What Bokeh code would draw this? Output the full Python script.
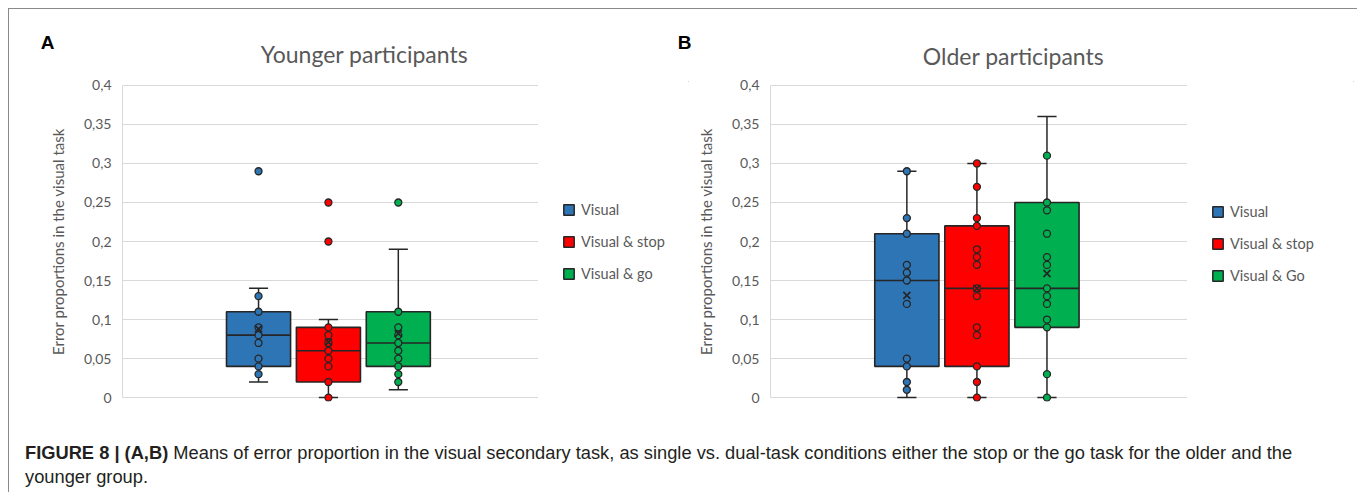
from bokeh.plotting import figure
from bokeh.models import (Range1d, FixedTicker, CustomJSTickFormatter, Legend,
                          LegendItem, Div)
from bokeh.layouts import column, row
from bokeh.embed import file_html
from bokeh.resources import INLINE
from bokeh.core.properties import value

# ---------------- data ----------------
groups_young = ["Visual", "Visual & stop", "Visual & go"]
groups_old = ["Visual", "Visual & stop", "Visual & Go"]
colors = ["#2E75B6", "#FF0000", "#00B050"]
y_ticks = [0, 0.05, 0.1, 0.15, 0.2, 0.25, 0.3, 0.35, 0.4]
panel_titles = ["Younger participants", "Older participants"]
panel_letters = ["A", "B"]

young_q1 = [0.04, 0.02, 0.04]
young_median = [0.08, 0.06, 0.07]
young_q3 = [0.11, 0.09, 0.11]
young_low = [0.02, 0.00, 0.01]
young_high = [0.14, 0.10, 0.19]
young_mean = [0.088, 0.071, 0.082]
young_points_visual = [0.13, 0.11, 0.09, 0.08, 0.07, 0.05, 0.04, 0.03]
young_points_stop = [0.09, 0.08, 0.07, 0.06, 0.05, 0.04, 0.02, 0.0]
young_points_go = [0.11, 0.09, 0.08, 0.07, 0.06, 0.05, 0.04, 0.03, 0.02]
young_outliers_visual = [0.29]
young_outliers_stop = [0.25, 0.20]
young_outliers_go = [0.25]

old_q1 = [0.04, 0.04, 0.09]
old_median = [0.15, 0.14, 0.14]
old_q3 = [0.21, 0.22, 0.25]
old_low = [0.0, 0.0, 0.0]
old_high = [0.29, 0.30, 0.36]
old_mean = [0.131, 0.14, 0.159]
old_points_visual = [0.29, 0.23, 0.21, 0.17, 0.16, 0.15, 0.12, 0.05, 0.04, 0.02, 0.01]
old_points_stop = [0.30, 0.27, 0.23, 0.22, 0.19, 0.18, 0.17, 0.14, 0.13, 0.09, 0.08,
                   0.04, 0.02, 0.0]
old_points_go = [0.31, 0.25, 0.24, 0.21, 0.18, 0.17, 0.14, 0.13, 0.12, 0.10, 0.09,
                 0.03, 0.0]
old_outliers_visual = []
old_outliers_stop = []
old_outliers_go = []

DARK = "#262626"
GREY_TXT = "#595959"
GRID = "#d9d9d9"
TICK_FS = "14px"
AXT_FS = "15px"
LEG_FS = "14.5px"
PANEL_H = 350


def make_panel(frame_w, b_left, b_top, b_bottom,
               q1, med, q3, lo, hi, mean, points, outliers):
    p = figure(frame_width=frame_w, frame_height=320, output_backend="svg",
               toolbar_location=None, x_range=Range1d(0, 1),
               y_range=Range1d(-0.005, 0.405),
               min_border_left=b_left, min_border_top=b_top,
               min_border_right=0, min_border_bottom=b_bottom)
    p.outline_line_color = None
    p.background_fill_color = "white"
    p.border_fill_color = "white"
    p.xaxis.visible = False
    p.xgrid.visible = False
    p.ygrid.grid_line_color = GRID
    p.ygrid.grid_line_width = 1
    p.yaxis.ticker = FixedTicker(ticks=y_ticks)
    p.yaxis.bounds = (0, 0.4)
    p.yaxis.formatter = CustomJSTickFormatter(code="""
        var s = tick.toFixed(2).replace(/0+$/, '').replace(/\\.$/, '');
        return s.replace('.', ',');
    """)
    p.yaxis.axis_line_color = GRID
    p.yaxis.major_tick_line_color = None
    p.yaxis.minor_tick_line_color = None
    p.yaxis.major_tick_out = 0
    p.yaxis.major_label_standoff = 11
    p.yaxis.major_label_text_font = "Lato"
    p.yaxis.major_label_text_font_size = TICK_FS
    p.yaxis.major_label_text_color = GREY_TXT
    p.yaxis.axis_label = "Error proportions in the visual task"
    p.yaxis.axis_label_text_font = "Lato"
    p.yaxis.axis_label_text_font_size = AXT_FS
    p.yaxis.axis_label_text_font_style = "normal"
    p.yaxis.axis_label_text_color = GREY_TXT
    p.yaxis.axis_label_standoff = 14

    center = 0.495
    offsets = [-0.168, 0.0, 0.168]
    bw = 0.154
    cap = 0.046
    for i in range(3):
        xc = center + offsets[i]
        p.vbar(x=[xc], width=bw, bottom=[q1[i]], top=[q3[i]],
               fill_color=colors[i], line_color=DARK, line_width=1.6)
        p.segment(x0=[xc - bw / 2], x1=[xc + bw / 2], y0=[med[i]], y1=[med[i]],
                  line_color=DARK, line_width=1.6)
        p.segment(x0=[xc, xc], x1=[xc, xc], y0=[q3[i], q1[i]], y1=[hi[i], lo[i]],
                  line_color=DARK, line_width=1.5)
        p.segment(x0=[xc - cap / 2, xc - cap / 2], x1=[xc + cap / 2, xc + cap / 2],
                  y0=[hi[i], lo[i]], y1=[hi[i], lo[i]],
                  line_color=DARK, line_width=1.5)
        pts = points[i] + outliers[i]
        p.scatter(x=[xc] * len(pts), y=pts, size=7, fill_color=colors[i],
                  line_color=DARK, line_width=1.3)
        p.scatter(x=[xc], y=[mean[i]], marker="x", size=10, line_color=DARK,
                  line_width=1.7)
    return p


def make_legend(width, groups, loc):
    lp = figure(width=width, height=PANEL_H, output_backend="svg",
                toolbar_location=None, x_range=Range1d(0, 1),
                y_range=Range1d(0, 1), x_axis_location=None,
                y_axis_location=None, min_border=0)
    lp.grid.visible = False
    lp.outline_line_color = None
    items = []
    for i in range(3):
        # legend proxy: one bar placed outside the visible range (never seen)
        r = lp.vbar(x=[5], width=0.1, bottom=[5], top=[6], fill_color=colors[i],
                    line_color=DARK, line_width=1.5)
        items.append(LegendItem(label=groups[i], renderers=[r]))
    legend = Legend(items=items, location=loc, margin=0, padding=0,
                    spacing=12, glyph_width=13, glyph_height=13, label_height=20,
                    label_standoff=6, border_line_color=None,
                    background_fill_alpha=0)
    legend.label_text_font = "Lato"
    legend.label_text_font_size = LEG_FS
    legend.label_text_color = GREY_TXT
    lp.add_layout(legend)
    return lp


# header with panel letters and titles (positions in header pixels)
header = figure(width=1345, height=60, output_backend="svg", toolbar_location=None,
                x_range=Range1d(0, 1345), y_range=Range1d(60, 0),
                min_border=0)
header.axis.visible = False
header.grid.visible = False
header.outline_line_color = None
header.text(x=[38, 675], y=[33, 33], text=panel_letters,
            text_font=value("Liberation Sans"), text_font_size="19px",
            text_font_style="bold", text_color="black",
            text_align="center", text_baseline="middle")
header.text(x=[355, 1004], y=[44, 46], text=panel_titles,
            text_font=value("Lato"), text_font_size="23px",
            text_color=GREY_TXT, text_align="center", text_baseline="middle")

pA = make_panel(416, 113, 12, 18,
                young_q1, young_median, young_q3, young_low,
                young_high, young_mean,
                [young_points_visual, young_points_stop, young_points_go],
                [young_outliers_visual, young_outliers_stop, young_outliers_go])
legA = make_legend(151, groups_young, (24, 118))
pB = make_panel(417, 81, 12, 18,
                old_q1, old_median, old_q3, old_low,
                old_high, old_mean,
                [old_points_visual, old_points_stop, old_points_go],
                [old_outliers_visual, old_outliers_stop, old_outliers_go])
legB = make_legend(167, groups_old, (24, 116))

caption = Div(text=(
    '<div style="font-family: \'Liberation Sans\', Arial, sans-serif; '
    'font-size: 18.3px; line-height: 24px; color: #231f20; '
    'padding: 17px 0 0 11px; white-space: nowrap;">'
    '<b>FIGURE 8 | (A,B)</b> Means of error proportion in the visual secondary task, '
    'as single vs. dual-task conditions either the stop or the go task for the older '
    'and the<br>younger group.</div>'), width=1345, height=64)

layout = column(header, row(pA, legA, pB, legB), caption,
                styles={"margin-left": "8px", "margin-top": "8px",
                        "border-left": "1px solid #8a8a8a",
                        "border-top": "1px solid #8a8a8a",
                        "border-right": "1px solid #8a8a8a",
                        "background-color": "white"})

open("out.html", "w").write(file_html(layout, INLINE))
